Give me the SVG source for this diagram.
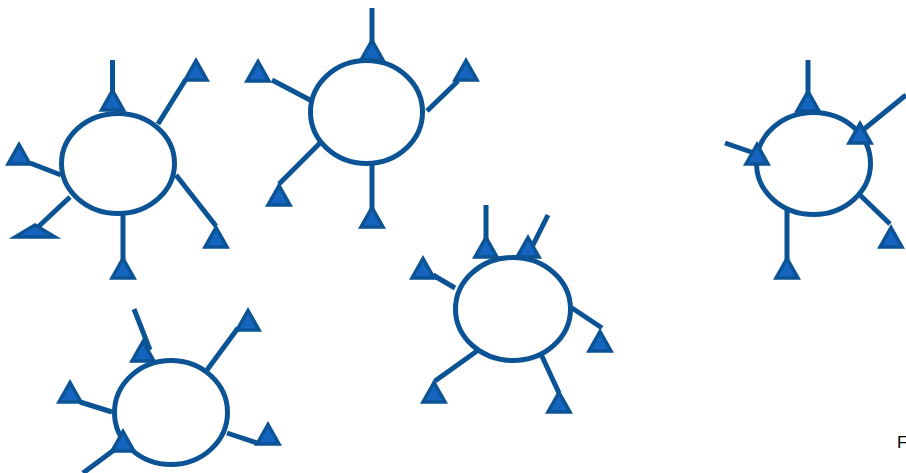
<svg xmlns="http://www.w3.org/2000/svg" xmlns:xlink="http://www.w3.org/1999/xlink" width="906" height="473" viewBox="0 0 906 473">
<style>
.ax{stroke:#0b5394;stroke-width:5;fill:none;stroke-linecap:butt}
.body{stroke:#0b5394;stroke-width:5;fill:#ffffff}
.syn{fill:#1565c0;stroke:#0b5394;stroke-width:3.5;stroke-linejoin:miter}
.lbl{font-family:"Liberation Sans",Arial,sans-serif;font-size:17px;fill:#000}
</style>
<defs>
<path id="tri" d="M-11,0 L11,0 L0,-19.5 Z"/>
</defs>
<rect width="906" height="473" fill="#ffffff"/>

<g id="neuron1">
<g class="connectors">
<line class="ax" x1="112.5" y1="60" x2="112.5" y2="100"/>
<line class="ax" x1="158" y1="124" x2="186" y2="79"/>
<line class="ax" x1="30" y1="163" x2="61" y2="175"/>
<line class="ax" x1="70" y1="197" x2="37" y2="228"/>
<line class="ax" x1="123" y1="215" x2="123" y2="262"/>
<line class="ax" x1="176" y1="175" x2="216" y2="226"/>
</g>
<ellipse class="body" cx="118" cy="163.5" rx="56.5" ry="50"/>
<use xlink:href="#tri" class="syn" x="112.5" y="110"/>
<use xlink:href="#tri" class="syn" x="196" y="80"/>
<use xlink:href="#tri" class="syn" x="19" y="164"/>
<polygon class="syn" points="15,237 55,237 35,225"/>
<use xlink:href="#tri" class="syn" x="123" y="278"/>
<use xlink:href="#tri" class="syn" x="216" y="247"/>
</g>

<g id="neuron2">
<g class="connectors">
<line class="ax" x1="372" y1="8" x2="372" y2="48"/>
<line class="ax" x1="272" y1="80" x2="310" y2="100"/>
<line class="ax" x1="427" y1="111" x2="458" y2="81"/>
<line class="ax" x1="320" y1="143" x2="279" y2="184"/>
<line class="ax" x1="372" y1="164" x2="372" y2="212"/>
</g>
<ellipse class="body" cx="366.5" cy="112" rx="56" ry="51.5"/>
<use xlink:href="#tri" class="syn" x="372" y="60"/>
<use xlink:href="#tri" class="syn" x="258" y="81"/>
<use xlink:href="#tri" class="syn" x="466" y="80"/>
<use xlink:href="#tri" class="syn" x="279" y="205"/>
<use xlink:href="#tri" class="syn" x="372" y="227"/>
</g>

<g id="neuron3">
<g class="connectors">
<line class="ax" x1="486" y1="205" x2="486" y2="245"/>
<line class="ax" x1="548" y1="215" x2="532" y2="247"/>
<line class="ax" x1="433" y1="275" x2="455" y2="288"/>
<line class="ax" x1="572" y1="308" x2="602" y2="328"/>
<line class="ax" x1="477" y1="351" x2="435" y2="381"/>
<line class="ax" x1="540" y1="352" x2="559" y2="393"/>
</g>
<ellipse class="body" cx="513" cy="309" rx="57.5" ry="51.5"/>
<use xlink:href="#tri" class="syn" x="486" y="257"/>
<use xlink:href="#tri" class="syn" x="528" y="257"/>
<use xlink:href="#tri" class="syn" x="423" y="278"/>
<use xlink:href="#tri" class="syn" x="600" y="351"/>
<use xlink:href="#tri" class="syn" x="434" y="402"/>
<use xlink:href="#tri" class="syn" x="559" y="412"/>
</g>

<g id="neuron4">
<g class="connectors">
<line class="ax" x1="808" y1="60" x2="808" y2="100"/>
<line class="ax" x1="906" y1="95" x2="863" y2="130"/>
<line class="ax" x1="725" y1="143" x2="757" y2="154"/>
<line class="ax" x1="787" y1="205" x2="787" y2="265"/>
<line class="ax" x1="860" y1="195" x2="890" y2="224"/>
</g>
<ellipse class="body" cx="813.5" cy="163.5" rx="57" ry="51"/>
<use xlink:href="#tri" class="syn" x="808" y="111"/>
<use xlink:href="#tri" class="syn" x="860" y="143"/>
<use xlink:href="#tri" class="syn" x="757" y="164"/>
<use xlink:href="#tri" class="syn" x="787" y="278"/>
<use xlink:href="#tri" class="syn" x="891" y="247"/>
</g>

<g id="neuron5">
<g class="connectors">
<line class="ax" x1="134" y1="309" x2="150" y2="350"/>
<line class="ax" x1="207" y1="370" x2="238" y2="328"/>
<line class="ax" x1="80" y1="402" x2="112" y2="412"/>
<line class="ax" x1="227" y1="433" x2="257" y2="443"/>
<line class="ax" x1="83" y1="473" x2="118" y2="447"/>
</g>
<ellipse class="body" cx="171" cy="412.5" rx="56.5" ry="52"/>
<use xlink:href="#tri" class="syn" x="143" y="361"/>
<use xlink:href="#tri" class="syn" x="248" y="330"/>
<use xlink:href="#tri" class="syn" x="70" y="402"/>
<use xlink:href="#tri" class="syn" x="268" y="444"/>
<use xlink:href="#tri" class="syn" x="123" y="451"/>
</g>

<text class="lbl" x="897" y="448">F</text>
</svg>
